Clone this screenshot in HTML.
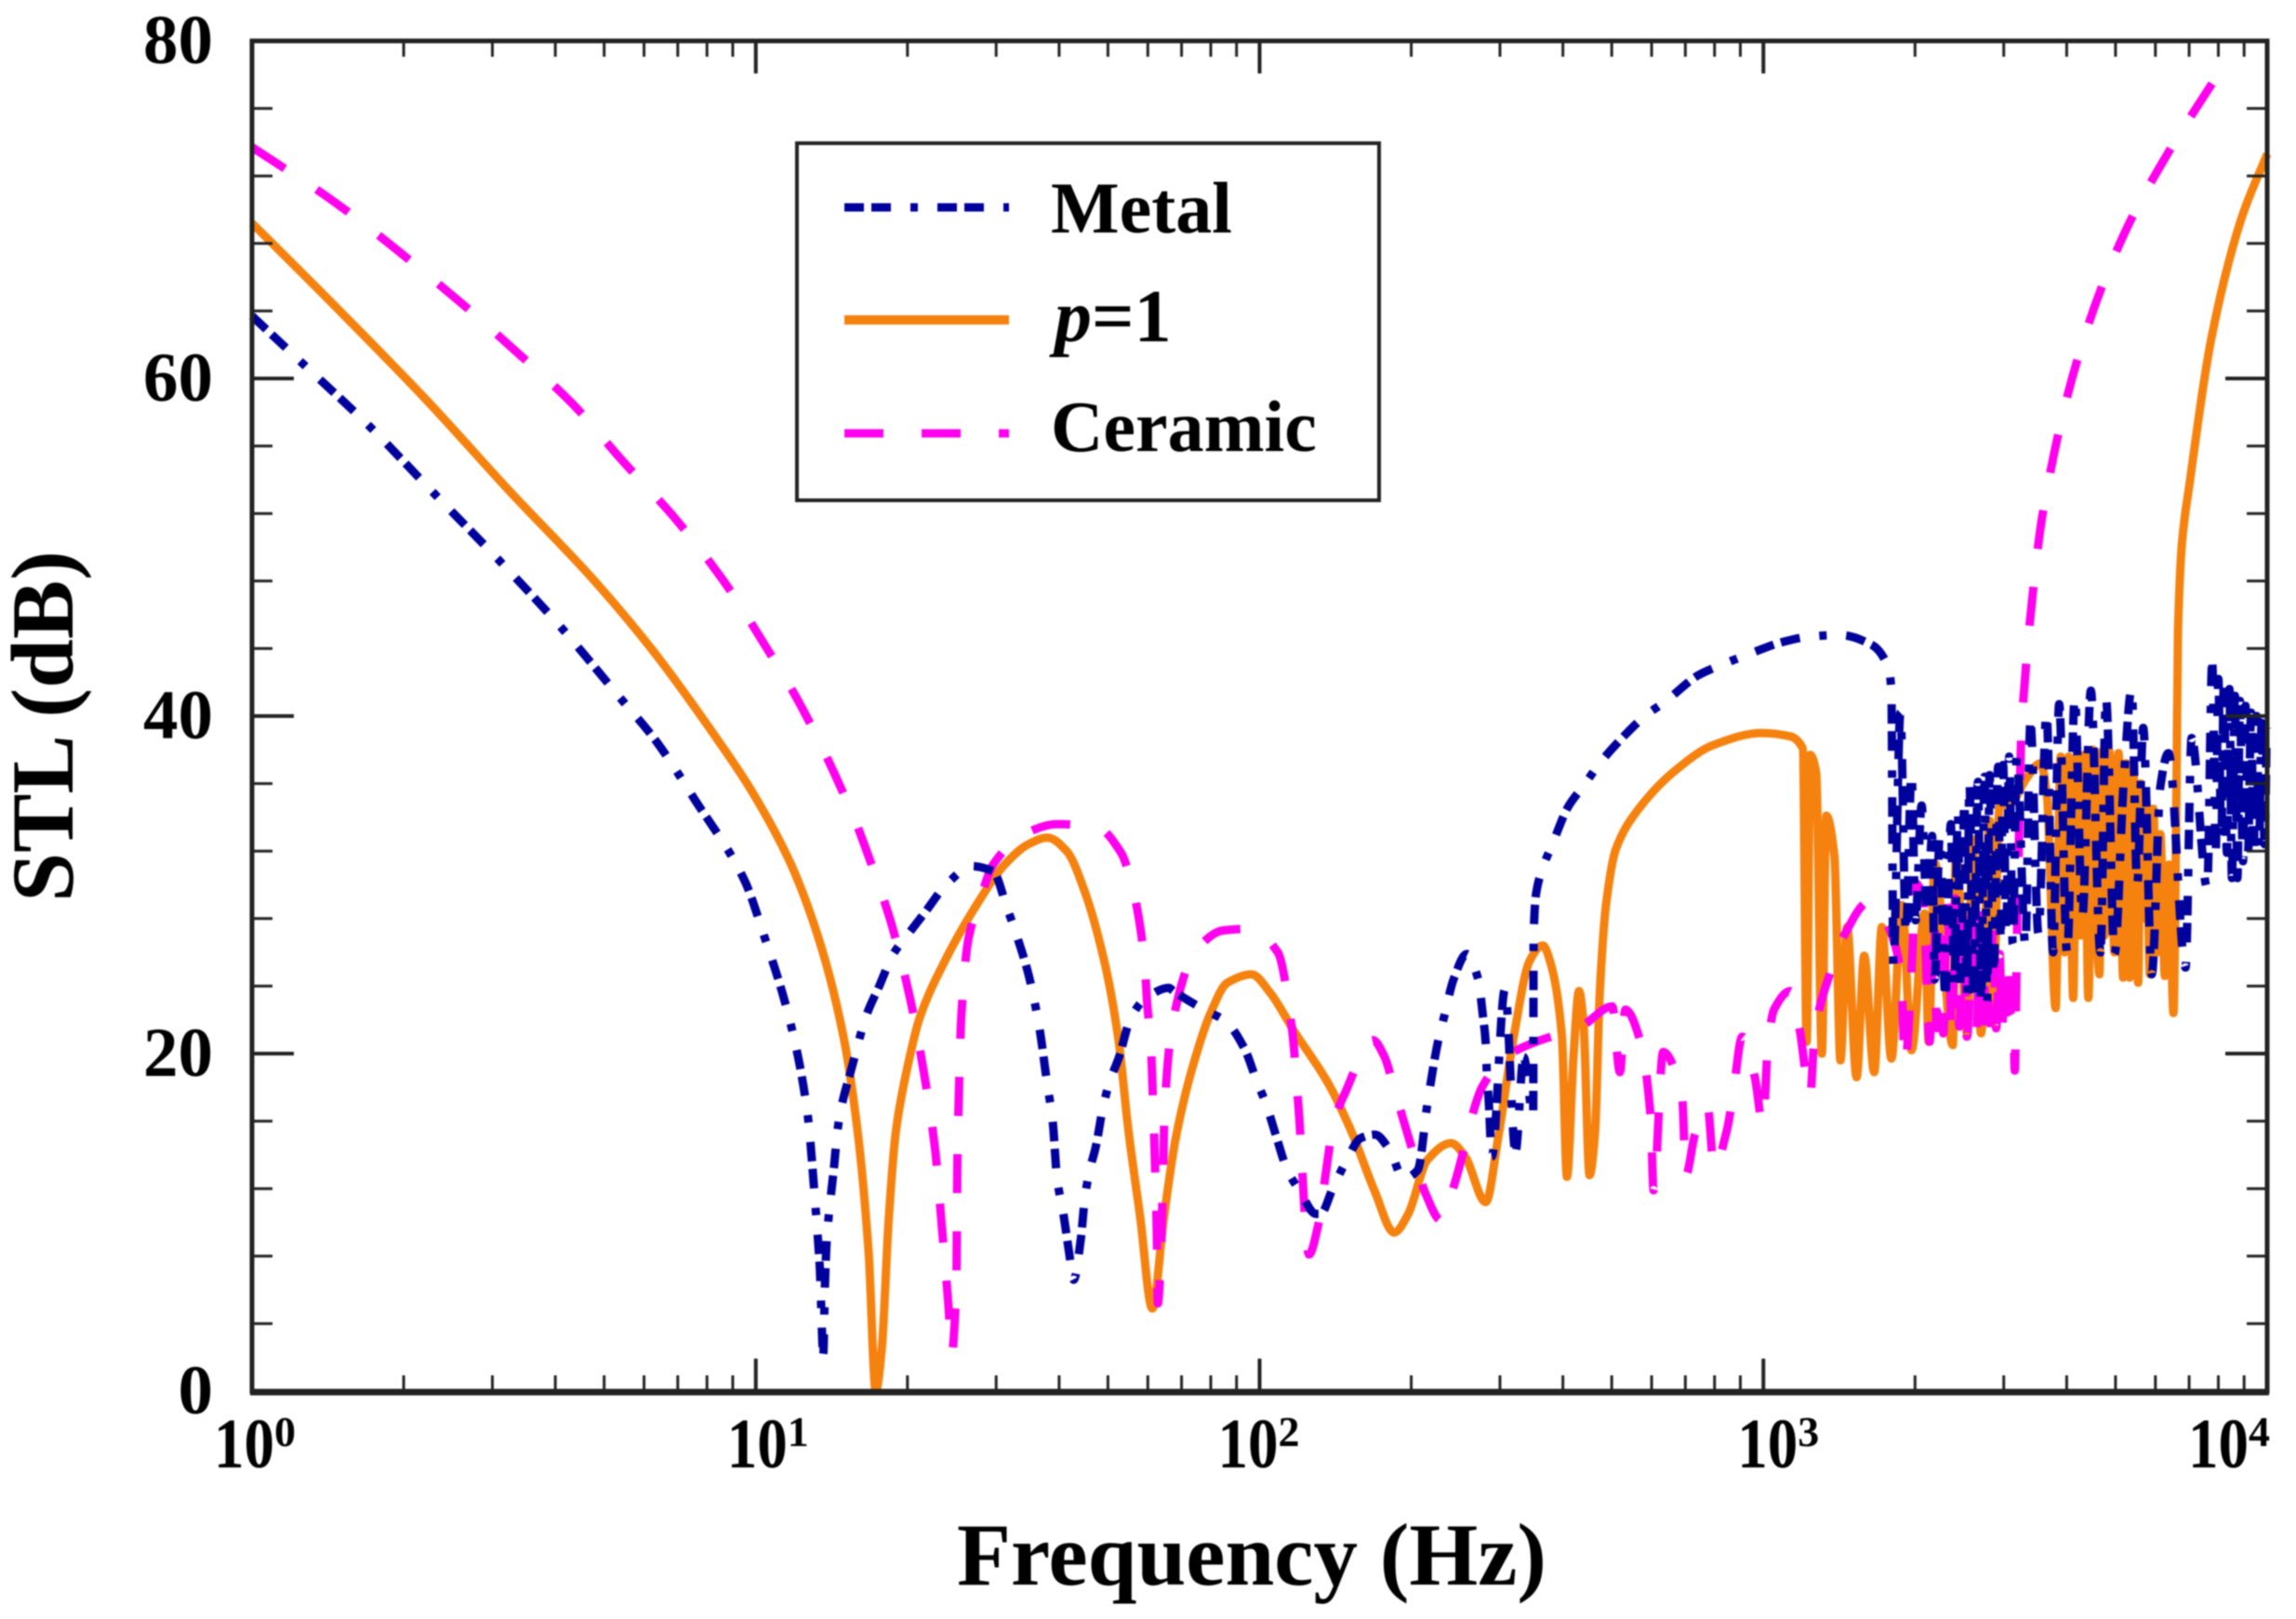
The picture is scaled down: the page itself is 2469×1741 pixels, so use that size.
<!DOCTYPE html>
<html lang="en">
<head>
<meta charset="utf-8">
<title>STL vs Frequency</title>
<style>
html,body{margin:0;padding:0;background:#fff;}
svg{display:block;filter:blur(0.7px);}
text{font-family:"Liberation Serif",serif;font-weight:bold;fill:#000;}
</style>
</head>
<body>
<svg id="chart" xmlns="http://www.w3.org/2000/svg" width="2469" height="1741" viewBox="0 0 2469 1741">
  <rect x="0" y="0" width="2469" height="1741" fill="#fff"/>
  <g id="series"></g>
  <g id="axes"></g>
  <text font-size="95" text-anchor="middle" transform="translate(78,781) rotate(-90)">STL (dB)</text>
  <text font-size="95" text-anchor="middle" x="1346" y="1704">Frequency (Hz)</text>
  <g>
    <rect x="857" y="154" width="626" height="384" fill="#fff" stroke="#222" stroke-width="4"/>
    <line x1="908" y1="223" x2="1085" y2="223" stroke="#00009c" stroke-width="9" stroke-dasharray="21 8 21 21 8 21"/>
    <text x="1130" y="250" font-size="78">Metal</text>
    <line x1="908" y1="344" x2="1085" y2="344" stroke="#f5820f" stroke-width="10"/>
    <text x="1134" y="367" font-size="80"><tspan font-style="italic">p</tspan>=1</text>
    <line x1="908" y1="466" x2="1085" y2="466" stroke="#ff00ee" stroke-width="9" stroke-dasharray="42 41"/>
    <text x="1130" y="485" font-size="78">Ceramic</text>
  </g>
</svg>
<script>
// log10 of frequency (Hz) and STL (dB)
const metalLogF = [
0,.1,.232,.361,.488,.612,.73,.8,.88,.977,
1.014,1.068,1.102,1.118,1.127,1.134,1.137,1.141,1.149,1.155,
1.162,1.171,1.188,1.22,1.245,1.273,1.303,1.334,1.381,1.429,
1.471,1.499,1.52,1.542,1.563,1.579,1.589,1.598,1.61,1.622,
1.631,1.645,1.653,1.662,1.675,1.689,1.702,1.721,1.744,1.775,
1.82,1.829,1.89,1.933,1.97,1.994,2.013,2.032,2.055,2.079,
2.112,2.121,2.145,2.173,2.201,2.229,2.258,2.286,2.314,2.333,
2.352,2.368,2.385,2.411,2.434,2.443,2.449,2.451,2.455,2.461,
2.487,2.508,2.524,2.543,2.544,2.549,2.562,2.581,2.612,2.644,
2.675,2.726,2.765,2.807,2.87,2.914,2.965,3.04,3.09,3.153,
3.216,3.248,3.254,3.258,3.272,3.283,3.294,3.302,3.314,3.325,
3.335,3.34,3.35,3.361,3.372,3.379,3.386,3.392,3.399,3.404,
3.409,3.417,3.426,3.432,3.439,3.444,3.449,3.457,3.466,3.471,
3.476,3.482,3.488,3.495,3.503,3.52,3.53,3.546,3.562,3.575,
3.587,3.603,3.618,3.633,3.65,3.669,3.68,3.697,3.715,3.731,
3.742,3.754,3.771,3.788,3.804,3.838,3.85,3.881,3.891,
3.898,3.903,3.909,3.914,3.92,3.925,3.93,3.936,3.941,3.946,
3.952,3.957,3.962,3.968,3.973,3.979,3.984,3.989,3.995,3.999];
const metalDb = [
63.7,60.9,57.2,53.2,49.3,45.3,41.1,38.6,35,30.3,
27.2,21.9,16.6,11.1,7.3,2.2,6.1,9,11.6,13.2,
15.4,17,18.9,22.3,24,25.9,27.1,28.3,30.1,31.1,
30.8,28.6,26.8,24.6,21.5,18.1,16.1,12.6,10.6,8.2,
6.6,9,11.4,13,14.5,16.8,18.3,19.8,22.1,23.3,
23.9,23.7,22.6,21.9,20.3,18.4,17,15.2,13.1,11.9,
10.5,10.5,12,13.7,15,15.2,14.3,12.6,13.1,17,
20.4,22.4,24.4,25.9,24.4,22.3,20.6,18.9,17.1,13.9,
23.8,14.2,19.8,16.3,27,29.5,31,32.4,34.6,35.9,
37.2,38.9,40,40.9,42.4,43,43.6,44.4,44.7,44.8,
44.2,42.9,41.5,25.3,40.2,27.1,36.6,27.9,34.7,28.2,
32.9,24.4,32.9,23.5,33.6,24,34.2,23.8,35,23.5,
36,23.6,36.1,23,36.4,23.1,36.5,25,37,27,
37.1,27.1,37.6,26.5,37.6,26.4,39.6,27.1,40.2,26,
40.7,25.9,41.1,28.1,41.5,26,41.1,25.9,36,41.6,
30,39.3,24.7,35.8,37.8,25.1,38.7,29.8,43.2,
32.1,42.2,32.6,42,31.9,41.6,30.4,41.2,30.4,40.9,
31.4,40.6,31.9,40.2,32.1,40,32.2,39.6,32.4,39.3];

const p1LogF = [
0,.171,.347,.512,.677,.795,.924,.995,1.07,1.128,
1.174,1.202,1.224,1.238,1.25,1.264,1.278,1.301,1.325,1.372,
1.438,1.494,1.541,1.579,1.617,1.654,1.693,1.72,1.739,1.763,
1.787,1.81,1.833,1.866,1.904,1.936,1.984,2.021,2.069,2.135,
2.182,2.229,2.267,2.295,2.333,2.38,2.408,2.449,2.473,2.505,
2.536,2.562,2.58,2.6,2.61,2.623,2.634,2.643,2.655,2.666,
2.675,2.688,2.707,2.75,2.826,2.902,2.996,3.053,3.078,3.086,
3.093,3.105,3.116,3.125,3.141,3.153,3.166,3.185,3.2,3.22,
3.235,3.254,3.275,3.294,3.32,3.328,3.34,3.376,3.382,3.405,
3.415,3.432,3.449,3.455,3.469,3.49,3.522,3.55,3.563,3.58,
3.59,3.598,3.606,3.615,3.622,3.63,3.637,3.645,3.654,3.662,
3.667,3.672,3.677,3.687,3.697,3.705,3.714,3.72,3.727,3.734,
3.744,3.749,3.754,3.76,3.767,3.774,3.781,3.788,3.797,3.805,
3.814,3.82,3.823,3.831,3.846,3.89,3.948,4];
const p1Db = [
69.2,64.1,58.7,53.3,48.1,43.9,38.6,35.4,31.2,26.5,
21,15.4,8.2,0,2.5,10.3,15.4,19.2,22.1,25.3,
28.8,31.2,32.4,32.8,32,29.5,25.3,20.8,15.6,10.3,
4.9,10.3,14.9,19.1,22.5,24.2,24.7,23.6,21.3,18.3,
15.4,11.8,9.4,10.5,13.7,14.7,13.9,11.2,14.9,21.1,
25.5,26.4,25.1,21.1,12.7,19.8,23.7,21.8,12.8,15.4,
23.5,28.9,32.1,34.4,36.8,38.3,39,38.8,38.1,20.7,
37.7,36.6,20,34.1,31.7,19.6,27.5,18.6,25.8,18.9,
27.5,19.7,28.8,20.2,28.3,20.7,31.3,20.5,31.9,21.1,
32.7,21.2,33.8,21.8,34.7,34.8,36.3,37.2,35.2,22.7,
37.6,26,37.6,23.3,37.6,27,37.7,23.3,38,27,
24.7,37.9,27,37.9,26,37.8,24.5,37.2,24.5,36.9,
24.2,36,28,35,24.7,34.5,26,33,24.6,31.2,
22.4,36,45.1,50.3,53.8,62.5,69.4,73.3];

const ceramicLogF = [
0,.171,.406,.524,.636,.736,.84,.936,1.018,1.095,
1.193,1.22,1.245,1.269,1.306,1.334,1.356,1.369,1.382,1.389,
1.398,1.4,1.403,1.408,1.422,1.445,1.471,1.532,1.598,1.678,
1.725,1.749,1.763,1.772,1.777,1.784,1.787,1.792,1.796,1.798,
1.804,1.808,1.812,1.827,1.871,1.928,1.98,2.036,2.064,2.077,
2.098,2.116,2.126,2.148,2.173,2.201,2.225,2.248,2.269,2.309,
2.328,2.361,2.386,2.443,2.499,2.549,2.638,2.7,2.715,2.726,
2.757,2.776,2.782,2.801,2.839,2.846,2.864,2.889,2.902,2.927,
2.939,2.958,2.983,2.999,3.009,3.021,3.053,3.072,3.093,3.1,
3.109,3.134,3.16,3.21,3.248,3.273,3.281,3.295,3.302,3.317,
3.33,3.339,3.344,3.349,3.357,3.365,3.374,3.381,3.389,3.397,
3.404,3.416,3.423,3.43,3.436,3.443,3.449,3.456,3.462,3.469,
3.473,3.483,3.49,3.496,3.499,3.503,3.506,3.512,3.52,3.526,
3.555,3.628,3.715,3.802,3.904];
const ceramicDb = [
73.7,70.3,64.7,61.6,58.5,55.1,51.7,48,44.2,40.3,
34.1,32,29.9,27.7,23.3,18.8,14.3,9.8,5.2,2.3,
6.4,13.2,17.7,22.3,26.8,29.1,31.2,33,33.6,33.4,
31.9,29.7,27.5,25.2,22.9,20.6,18.4,13.8,9.2,5.2,
8,12.6,17.1,21.8,26,27.3,27.4,26,21.5,16.9,
8.1,9.8,11.8,16,17.9,19.8,20.8,19.8,17.7,13.7,
11.8,10.1,12.2,18.1,20,20.7,21.6,22.8,18.9,22.6,
20.6,16.3,11.9,20.1,17.3,12.8,15.2,16.9,13.2,15.4,
17.4,21,18.6,15.8,20.5,22.6,23.7,21.4,17.5,20.5,
22.4,24.9,27,29,27.5,24.8,19.4,25.5,30.1,29.2,
20.7,28,21.5,28.2,21.2,29,21.2,29.2,21.6,28,
21,28,21.5,28.2,21.4,27,21.8,27.9,21.5,25.9,
21.6,25.5,22.5,22,19,26.4,31,39,42.5,44.7,
52.1,61.6,68.5,73.3,78.1];

const yMajorTicks = [0,20,40,60,80];
const yTickLabels = ["0","20","40","60","80"];
const xDecades = [0,1,2,3,4];
const xTickBase = ["10","10","10","10","10"];
const xTickExp = ["0","1","2","3","4"];

// axis functions
function xScale(logF){ return 271 + logF * 541.75; }
function yScale(db){ return 1496 - db * 18.15; }

const NS = "http://www.w3.org/2000/svg";
const seriesG = document.getElementById("series");
const axesG = document.getElementById("axes");

// monotone cubic path through the data points
function smoothPath(logF, db){
  const n = Math.min(logF.length, db.length);
  const xs = logF.slice(0, n).map(xScale), ys = db.slice(0, n).map(yScale);
  const m = new Array(n).fill(0);
  for (let i = 1; i < n - 1; i++) {
    const dx0 = xs[i] - xs[i-1], dx1 = xs[i+1] - xs[i];
    const d0 = (ys[i] - ys[i-1]) / (dx0 || 1e-6), d1 = (ys[i+1] - ys[i]) / (dx1 || 1e-6);
    m[i] = d0 * d1 > 0 ? 2 * d0 * d1 / (d0 + d1) : 0;
  }
  m[0] = (ys[1] - ys[0]) / (xs[1] - xs[0]);
  m[n-1] = (ys[n-1] - ys[n-2]) / (xs[n-1] - xs[n-2]);
  let d = "M" + xs[0].toFixed(1) + " " + ys[0].toFixed(1);
  for (let i = 0; i < n - 1; i++) {
    const dx = xs[i+1] - xs[i];
    if (dx <= 0) { d += "L" + xs[i+1].toFixed(1) + " " + ys[i+1].toFixed(1); continue; }
    d += "C" + (xs[i] + dx/3).toFixed(1) + " " + (ys[i] + m[i]*dx/3).toFixed(1) + " " +
         (xs[i+1] - dx/3).toFixed(1) + " " + (ys[i+1] - m[i+1]*dx/3).toFixed(1) + " " +
         xs[i+1].toFixed(1) + " " + ys[i+1].toFixed(1);
  }
  return d;
}

function drawSeries(logF, db, color, dash, width, name){
  const p = document.createElementNS(NS, "path");
  p.setAttribute("d", smoothPath(logF, db));
  p.setAttribute("fill", "none");
  p.setAttribute("stroke", color);
  p.setAttribute("stroke-width", width);
  p.setAttribute("stroke-linejoin", "round");
  if (dash) p.setAttribute("stroke-dasharray", dash);
  
  
  seriesG.appendChild(p);
}

drawSeries(p1LogF, p1Db, "#f5820f", "", 9, "p1-curve");
drawSeries(ceramicLogF, ceramicDb, "#ff00ee", "42 41", 9, "ceramic-curve");
drawSeries(metalLogF, metalDb, "#00009c", "21 8 21 21 8 21", 9, "metal-curve");

function tick(x1, y1, x2, y2, w, name){
  const l = document.createElementNS(NS, "line");
  l.setAttribute("x1", x1);
  l.setAttribute("y1", y1);
  l.setAttribute("x2", x2);
  l.setAttribute("y2", y2);
  l.setAttribute("stroke", "#222");
  l.setAttribute("stroke-width", w);
  
  
  axesG.appendChild(l);
}

const left = xScale(0), right = xScale(4), top0 = yScale(80), bot0 = yScale(0);

// y ticks every 4 dB, long ticks at labelled values
for (let v = 0; v <= 80; v += 4) {
  const major = yMajorTicks.indexOf(v) >= 0;
  const len = major ? 45 : 22;
  const w = major ? 4 : 3;
  if (v > 0 && v < 80) {
    tick(left, yScale(v), left + len, yScale(v), w, "y-tick-left");
    tick(right, yScale(v), right - len, yScale(v), w, "y-tick-right");
  }
}
yMajorTicks.forEach(function(v, i){
  const t = document.createElementNS(NS, "text");
  t.setAttribute("x", 229);
  t.setAttribute("y", yScale(v) + 24);
  t.setAttribute("text-anchor", "end");
  t.setAttribute("font-size", 75);
  t.textContent = yTickLabels[i];
  
  
  axesG.appendChild(t);
});

// x ticks, logarithmic
const multipliers = [2,3,4,5,6,7,8,9];
xDecades.forEach(function(dec){
  if (dec > 0 && dec <= 4) {
    tick(xScale(dec), top0, xScale(dec), top0 + 35, 4, "x-tick-top");
    tick(xScale(dec), bot0, xScale(dec), bot0 - 35, 4, "x-tick-bottom");
  }
  if (dec < 4) multipliers.forEach(function(m){
    const x = xScale(dec + Math.log10(m));
    tick(x, top0, x, top0 + 17, 3, "x-minor-tick-top");
    tick(x, bot0, x, bot0 - 17, 3, "x-minor-tick-bottom");
  });
});
const xLabelNudge = [-41, -31, -45, -28, -85];
xDecades.forEach(function(dec, i){
  const t = document.createElementNS(NS, "text");
  t.setAttribute("x", xScale(dec) + xLabelNudge[i]);
  t.setAttribute("y", 1578);
  t.setAttribute("font-size", 76);
  t.setAttribute("textLength", 65);
  t.setAttribute("lengthAdjust", "spacingAndGlyphs");
  t.textContent = xTickBase[i];
  
  
  axesG.appendChild(t);
  const s = document.createElementNS(NS, "text");
  s.setAttribute("x", xScale(dec) + xLabelNudge[i] + 65);
  s.setAttribute("y", 1555);
  s.setAttribute("font-size", 46);
  s.textContent = xTickExp[i];
  
  
  axesG.appendChild(s);
});

// plot frame
const frame = document.createElementNS(NS, "rect");
frame.setAttribute("x", left);
frame.setAttribute("y", top0);
frame.setAttribute("width", right - left);
frame.setAttribute("height", bot0 - top0);
frame.setAttribute("fill", "none");
frame.setAttribute("stroke", "#222");
frame.setAttribute("stroke-width", 5);


axesG.appendChild(frame);
tick(left - 2, bot0 + 1, right + 2, bot0 + 1, 7, "x-axis-line");
</script>
</body>
</html>
